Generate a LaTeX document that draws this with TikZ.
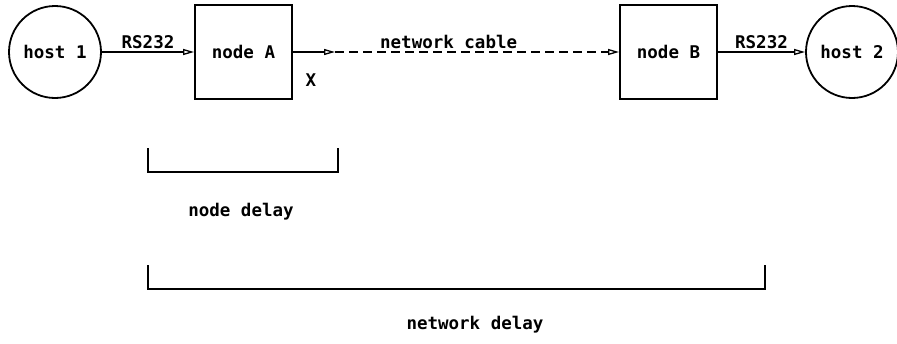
\documentclass[tikz,border=0pt]{standalone}
\usepackage{fontspec}
\setmonofont{DejaVu Sans Mono}
\usetikzlibrary{arrows.meta}

\begin{document}
\begin{tikzpicture}
  [x=1pt,y=-1pt,line width=1.8pt,
   every node/.style={font=\ttfamily\bfseries\fontsize{17.5}{17.5}\selectfont,inner sep=2pt},
   host/.style={circle,draw,minimum size=92pt,inner sep=0pt},
   box/.style={rectangle,draw,minimum width=97pt,minimum height=94pt},
   tip/.style={-{Triangle[open,length=11pt,width=6pt,line width=1.3pt]}}]
  \useasboundingbox (0,0) rectangle (897,343);
  \node[host] (host1) at (55,52)    {host 1};
  \node[box]  (nodeA) at (243.5,52) {node A};
  \node[box]  (nodeB) at (668.5,52) {node B};
  \node[host] (host2) at (852,52)   {host 2};
  \coordinate (cut) at (335,52);

  \draw[tip] (host1) -- node[above] (rs1) {RS232} (nodeA);
  \draw[tip] (nodeA) -- (cut);
  \draw[tip,dash pattern=on 9pt off 5pt] (cut) -- node[above,pos=.4] (cable) {network cable} (nodeB);
  \draw[tip] (nodeB) -- node[above] (rs2) {RS232} (host2);
  \node (xmark) at (311,80) {X};

  % delay brackets
  \draw (148,148) |- (338,172) -- (338,148);
  \node (ndelay) at (241,212) {node delay};
  \draw (148,265) |- (765,289) -- (765,265);
  \node (wdelay) at (475,325) {network delay};
\end{tikzpicture}
\end{document}
